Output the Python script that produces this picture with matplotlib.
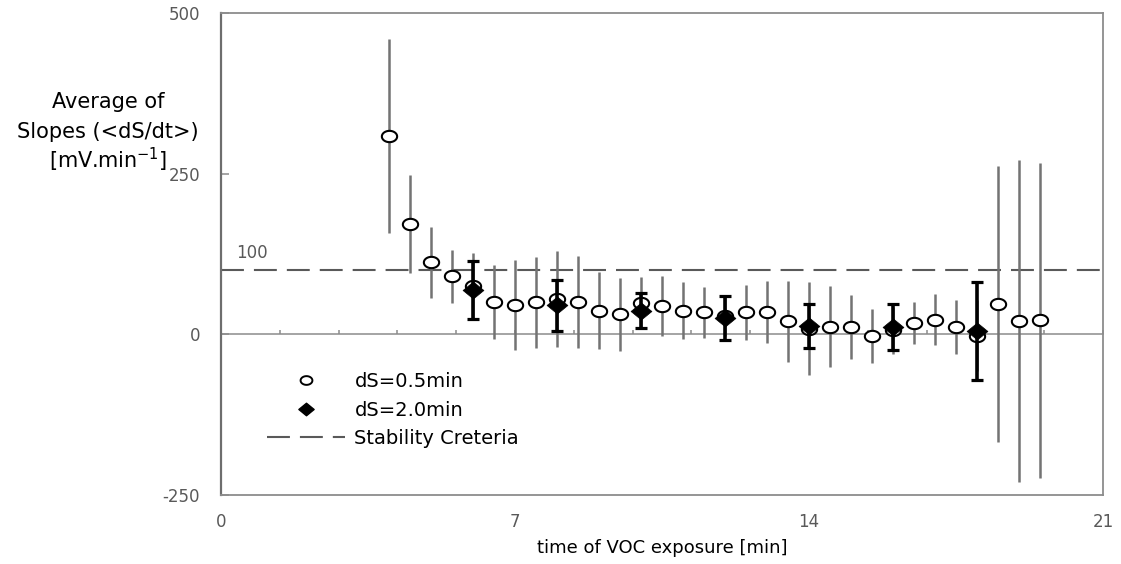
import matplotlib
matplotlib.use("Agg")
import matplotlib.pyplot as plt
from matplotlib.lines import Line2D
from matplotlib.path import Path
from matplotlib.ticker import MultipleLocator, FixedLocator
import numpy as np

plt.rcParams['font.family'] = ['DejaVu Sans']
plt.rcParams['axes.unicode_minus'] = False
plt.rcParams['lines.scale_dashes'] = False

# dS = 0.5 min window: mean slope and spread
t_05 = [4.0, 4.5, 5.0, 5.5, 6.0, 6.5, 7.0, 7.5, 8.0, 8.5, 9.0, 9.5,
        10.0, 10.5, 11.0, 11.5, 12.0, 12.5, 13.0, 13.5, 14.0, 14.5, 15.0, 15.5,
        16.0, 16.5, 17.0, 17.5, 18.0, 18.5, 19.0, 19.5]
slope_05 = [308, 172, 112, 90, 75, 50, 45, 50, 55, 50, 37, 31,
            49, 44, 37, 34, 28, 34, 35, 20, 9, 12, 11, -2,
            6, 18, 23, 11, -2, 47, 21, 22]
err_05 = [151, 76, 55, 41, 51, 58, 70, 71, 75, 72, 60, 57,
          40, 47, 45, 40, 30, 43, 48, 63, 72, 63, 50, 42,
          37, 33, 39, 42, 55, 215, 251, 245]

# dS = 2.0 min window
t_20 = [6, 8, 10, 12, 14, 16, 18]
slope_20 = [69, 45, 37, 25, 13, 11, 5]
err_20 = [45, 40, 27, 34, 34, 36, 76]

threshold = 100
x_ticks = [0, 7, 14, 21]
y_ticks = [-250, 0, 250, 500]
y_label_lines = ['Average of', 'Slopes (<dS/dt>)', '[mV.min$^{-1}$]']

GREY_TXT = '#595959'
GREY_AX = '#8c8c8c'
GREY_ERR = '#737373'

# slightly wide markers (ellipse / flattened diamond)
theta = np.linspace(0, 2 * np.pi, 60)
ellipse = Path(np.column_stack([np.cos(theta), 0.74 * np.sin(theta)]), closed=True)
diamond = Path([(1, 0), (0, 0.82), (-1, 0), (0, -0.82), (1, 0)], closed=True)

fig = plt.figure(figsize=(11.21, 5.64), dpi=100)
ax = fig.add_axes([221 / 1121, 1 - 495 / 564, (1103 - 221) / 1121, (495 - 13) / 564])

ax.set_xlim(0, 21)
ax.set_ylim(-250, 500)

# stability criterion
ax.axhline(threshold, color=GREY_TXT, lw=1.5, dashes=(16.5, 7.2), zorder=1)
ax.text(0.35, threshold + 12, str(threshold), color=GREY_TXT, fontsize=12,
        ha='left', va='bottom')

ax.errorbar(t_05, slope_05, yerr=err_05, fmt='none', ecolor=GREY_ERR,
            elinewidth=1.8, capsize=0, zorder=2)
ax.plot(t_05, slope_05, ls='none', marker=ellipse, ms=11, mfc='white',
        mec='black', mew=1.5, zorder=3)
ax.plot(t_20, slope_20, ls='none', marker=diamond, ms=15, mfc='black',
        mec='black', mew=0.5, zorder=4)
ax.errorbar(t_20, slope_20, yerr=err_20, fmt='none', ecolor='black',
            elinewidth=2.6, capsize=4, capthick=2.3, zorder=5)

# horizontal axis line through zero with its tick marks
zero_ax = ax.secondary_xaxis(0, transform=ax.transData)
zero_ax.xaxis.set_major_locator(FixedLocator(x_ticks))
zero_ax.xaxis.set_minor_locator(MultipleLocator(1.4))
zero_ax.tick_params(which='both', direction='in', length=3, width=1.1,
                    color=GREY_AX, labelbottom=False)
for s in zero_ax.spines.values():
    s.set_color(GREY_AX)
    s.set_linewidth(1.1)

for s in ax.spines.values():
    s.set_color(GREY_AX)
    s.set_linewidth(1.3)
ax.spines['left'].set_color('#6e6e6e')
ax.spines['left'].set_linewidth(1.6)

ax.set_xticks(x_ticks)
ax.set_yticks(y_ticks)
ax.tick_params(axis='x', length=0, pad=13, labelsize=12, labelcolor=GREY_TXT)
ax.tick_params(axis='y', direction='in', length=6, width=1.1, color=GREY_AX,
               pad=15, labelsize=12, labelcolor=GREY_TXT)

ax.set_xlabel('time of VOC exposure [min]', fontsize=13, labelpad=6)

# horizontal y-axis title, one line at a time
for line, y_px in zip(y_label_lines, [102, 132, 160]):
    fig.text(108 / 1121, 1 - y_px / 564, line, ha='center', va='center',
             fontsize=15)

handles = [
    Line2D([], [], ls='none', marker=ellipse, ms=8.5, mfc='white', mec='black', mew=1.4),
    Line2D([], [], ls='none', marker=diamond, ms=11, mfc='black', mec='black'),
    Line2D([], [], color=GREY_TXT, lw=1.5, dashes=(16.5, 7.2)),
]
ax.legend(handles, ['dS=0.5min', 'dS=2.0min', 'Stability Creteria'],
          loc='center left', bbox_to_anchor=(267 / 1121, 1 - 410 / 564),
          bbox_transform=fig.transFigure, frameon=False, fontsize=14,
          handlelength=4.0, handletextpad=0.5, labelspacing=0.5,
          borderpad=0, borderaxespad=0)

fig.savefig('out.png', dpi=100)
